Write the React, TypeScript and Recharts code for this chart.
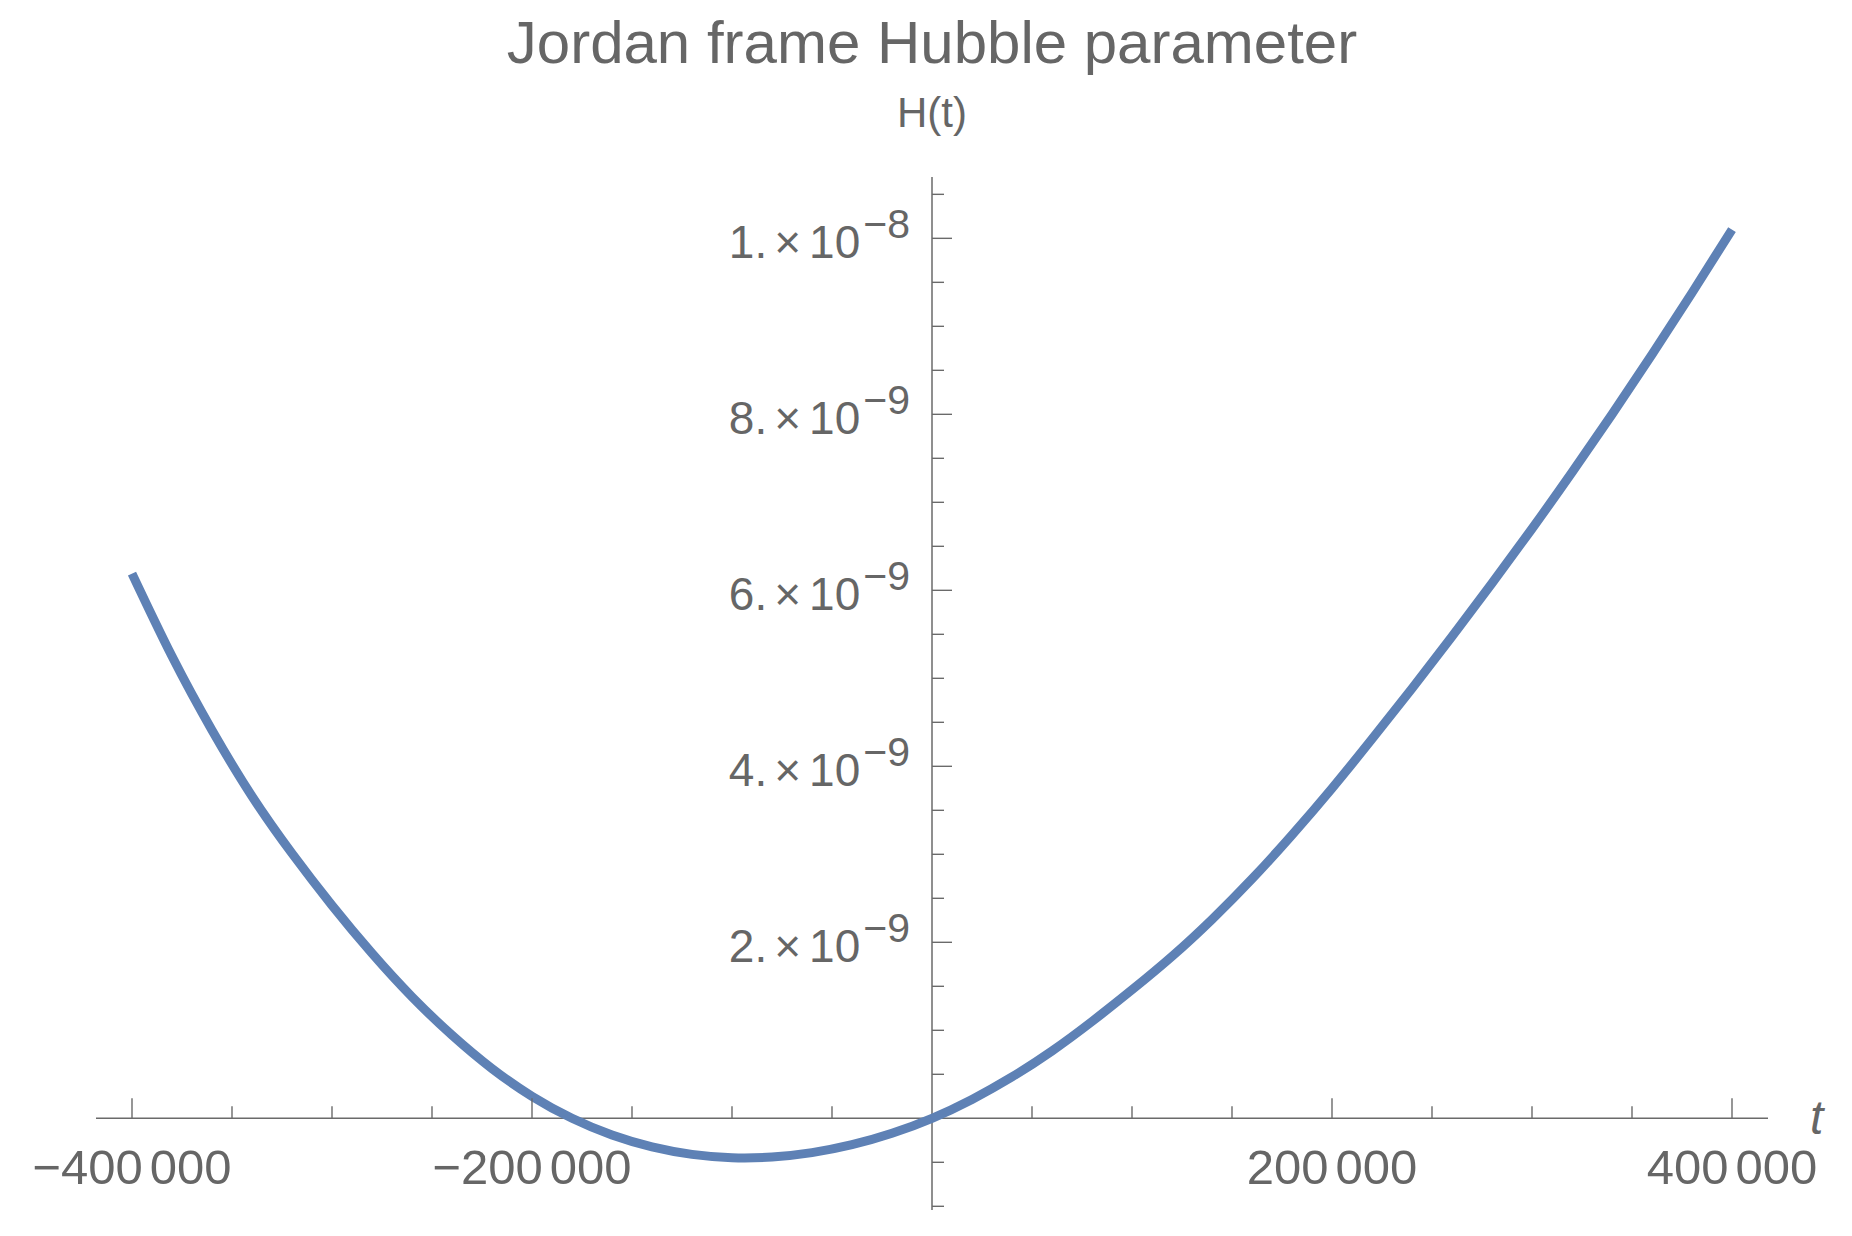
import React from "react";
import { LineChart, Line, XAxis, YAxis, ReferenceLine, ReferenceDot } from "recharts";

// time values t
const tValues = [
  -400000, -380000, -360000, -340000, -320000, -300000, -280000, -260000, -240000, -220000,
  -200000, -180000, -160000, -140000, -120000, -100000, -80000, -60000, -40000, -20000,
  0, 20000, 40000, 60000, 80000, 100000, 120000, 140000, 160000, 180000,
  200000, 220000, 240000, 260000, 280000, 300000, 320000, 340000, 360000, 380000, 400000,
];
// Hubble parameter H(t), in units of 1e-9
const hValues = [
  6.19, 5.25, 4.41, 3.66, 3.01, 2.42, 1.875, 1.38, 0.945, 0.565,
  0.25, 0.0, -0.19, -0.325, -0.41, -0.448, -0.44, -0.39, -0.3, -0.17,
  0.0, 0.215, 0.47, 0.765, 1.1, 1.46, 1.84, 2.26, 2.72, 3.22,
  3.75, 4.31, 4.885, 5.475, 6.08, 6.7, 7.34, 8.0, 8.68, 9.38, 10.1,
];

const xMajorTicks = [-400000, -200000, 200000, 400000];
const xMajorLabelSign = ["−", "−", "", ""];
const xMajorLabelHigh = ["400", "200", "200", "400"];
const xMajorLabelLow = ["000", "000", "000", "000"];
const xMinorTicks = [
  -350000, -300000, -250000, -150000, -100000, -50000,
  50000, 100000, 150000, 250000, 300000, 350000,
];

const yMajorTicks = [2, 4, 6, 8, 10];
const yTickMantissa = ["2.", "4.", "6.", "8.", "1."];
const yTickExponent = ["−9", "−9", "−9", "−9", "−8"];
const yMinorTicks = [-1, -0.5, 0.5, 1, 1.5, 2.5, 3, 3.5, 4.5, 5, 5.5, 6.5, 7, 7.5, 8.5, 9, 9.5, 10.5];

const X_DOMAIN: [number, number] = [-418000, 418000];
const Y_DOMAIN: [number, number] = [-1.042, 10.697];

const TITLE = "Jordan frame Hubble parameter";
const Y_LABEL = "H(t)";
const X_LABEL = "t";

const data = tValues.map((t, i) => ({ t, h: hValues[i] }));

const TEXT = "#666666";
const AXIS = "#6a6a6a";
const LINE = "#5e81b5";
const FONT = "'Liberation Sans', Arial, Helvetica, sans-serif";

const XMajorTick = (label: number) => (p: any) => (
  <g>
    <line x1={p.cx} y1={p.cy} x2={p.cx} y2={p.cy - 20} stroke={AXIS} strokeWidth={1.4} />
    <text x={p.cx} y={p.cy + 66} textAnchor="middle" fontSize={49} fill={TEXT} fontFamily={FONT}>
      <tspan>{xMajorLabelSign[label] + xMajorLabelHigh[label]}</tspan>
      <tspan dx={7}>{xMajorLabelLow[label]}</tspan>
    </text>
  </g>
);

const XMinorTick = (p: any) => (
  <line x1={p.cx} y1={p.cy} x2={p.cx} y2={p.cy - 12} stroke={AXIS} strokeWidth={1.4} />
);

const YMajorTick = (label: number) => (p: any) => (
  <g>
    <line x1={p.cx} y1={p.cy} x2={p.cx + 20} y2={p.cy} stroke={AXIS} strokeWidth={1.4} />
    <text x={p.cx - 22} y={p.cy + 20} textAnchor="end" fontSize={46} fill={TEXT} fontFamily={FONT}>
      <tspan>{yTickMantissa[label]}</tspan>
      <tspan dx={7}>×</tspan>
      <tspan dx={8}>10</tspan>
      <tspan dx={3} dy={-20} fontSize={41}>{yTickExponent[label]}</tspan>
    </text>
  </g>
);

const YMinorTick = (p: any) => (
  <line x1={p.cx} y1={p.cy} x2={p.cx + 12} y2={p.cy} stroke={AXIS} strokeWidth={1.4} />
);

const TopLabels = (p: any) => (
  <g>
    <text x={p.cx} y={p.cy - 114} textAnchor="middle" fontSize={60} fill={TEXT} fontFamily={FONT}>
      {TITLE}
    </text>
    <text x={p.cx} y={p.cy - 50} textAnchor="middle" fontSize={42} fill={TEXT} fontFamily={FONT}>
      {Y_LABEL}
    </text>
  </g>
);

const RightLabel = (p: any) => (
  <text x={p.cx + 42} y={p.cy + 16} fontSize={48} fontStyle="italic" fill={TEXT} fontFamily={FONT}>
    {X_LABEL}
  </text>
);

export default function App() {
  return (
    <div style={{ width: 1836, height: 1218 }}>
      <LineChart
        width={1836}
        height={1218}
        data={data}
        margin={{ top: 169, right: 76, bottom: 16, left: 88 }}
      >
        <XAxis type="number" dataKey="t" domain={X_DOMAIN} allowDataOverflow hide />
        <YAxis type="number" domain={Y_DOMAIN} allowDataOverflow hide />
        <ReferenceLine y={0} stroke={AXIS} strokeWidth={1.5} />
        <ReferenceLine x={0} stroke={AXIS} strokeWidth={1.5} />
        {xMinorTicks.map((t) => (
          <ReferenceDot key={"xm" + t} x={t} y={0} shape={XMinorTick} />
        ))}
        {xMajorTicks.map((t, i) => (
          <ReferenceDot key={"xM" + t} x={t} y={0} shape={XMajorTick(i)} />
        ))}
        {yMinorTicks.map((v) => (
          <ReferenceDot key={"ym" + v} x={0} y={v} shape={YMinorTick} />
        ))}
        {yMajorTicks.map((v, i) => (
          <ReferenceDot key={"yM" + v} x={0} y={v} shape={YMajorTick(i)} />
        ))}
        <ReferenceDot x={0} y={Y_DOMAIN[1]} shape={TopLabels} ifOverflow="visible" />
        <ReferenceDot x={X_DOMAIN[1]} y={0} shape={RightLabel} ifOverflow="visible" />
        <Line
          type="natural"
          dataKey="h"
          stroke={LINE}
          strokeWidth={9}
          dot={false}
          activeDot={false}
          strokeLinecap="butt"
          isAnimationActive={false}
        />
      </LineChart>
    </div>
  );
}
